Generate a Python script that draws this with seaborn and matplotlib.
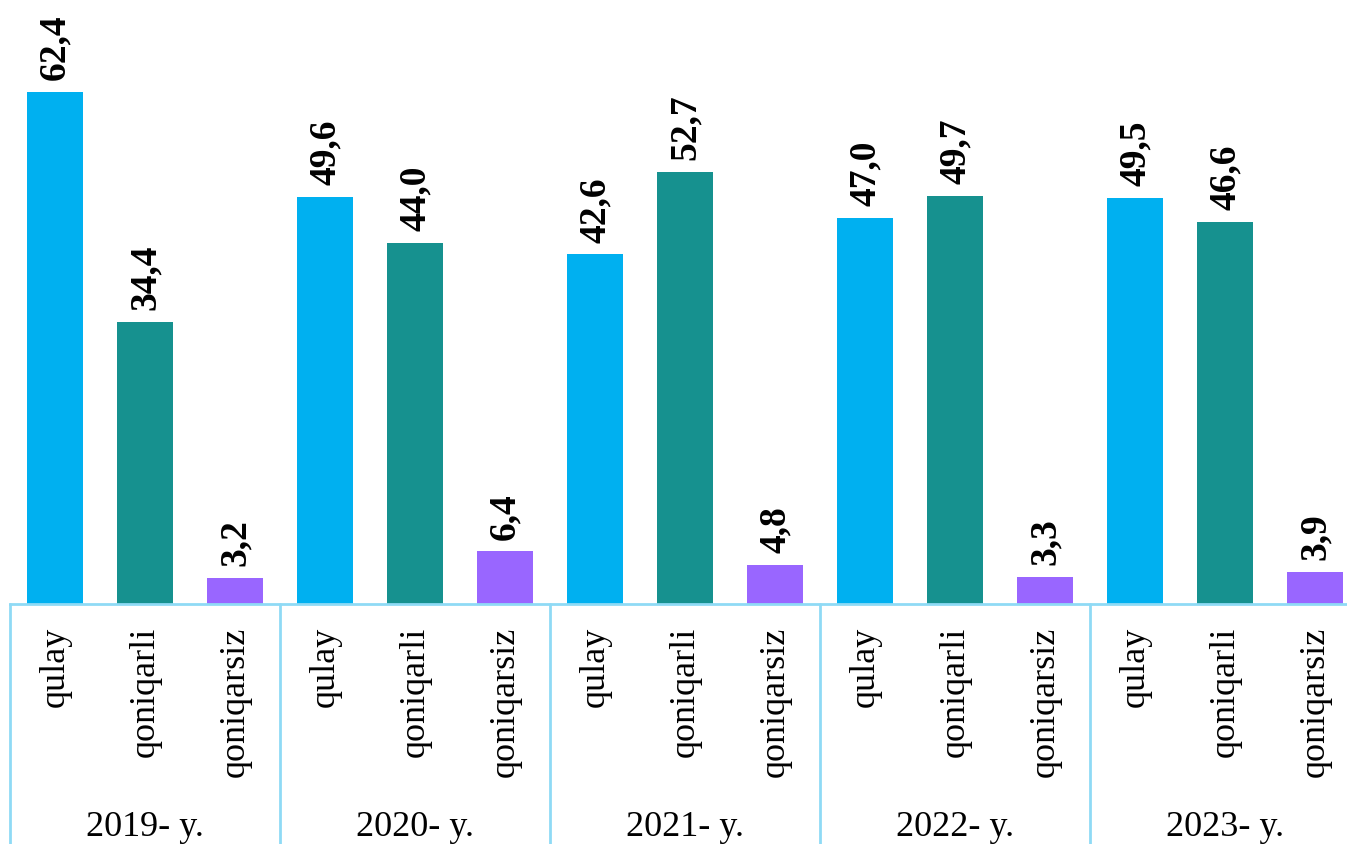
import matplotlib
matplotlib.use("Agg")
import matplotlib.pyplot as plt
import matplotlib.transforms as mtransforms
import seaborn as sns
import pandas as pd

years = ["2019- y.", "2020- y.", "2021- y.", "2022- y.", "2023- y."]
categories = ["qulay", "qoniqarli", "qoniqarsiz"]
qulay = [62.4, 49.6, 42.6, 47.0, 49.5]
qoniqarli = [34.4, 44.0, 52.7, 49.7, 46.6]
qoniqarsiz = [3.2, 6.4, 4.8, 3.3, 3.9]

colors = {"qulay": "#00B0F0", "qoniqarli": "#16918F", "qoniqarsiz": "#9966FF"}
line_color = "#8FDAF5"
serif = "Liberation Serif"

rows = []
for i, y in enumerate(years):
    for cat, vals in zip(categories, [qulay, qoniqarli, qoniqarsiz]):
        rows.append({"slot": f"{y} {cat}", "year": y, "cat": cat, "value": vals[i]})
df = pd.DataFrame(rows)
order = list(df["slot"])

sns.set_theme(style="white")
plt.rcParams["font.family"] = [serif, "DejaVu Serif"]

fig = plt.figure(figsize=(13.47, 8.44), dpi=100)
ax = fig.add_axes([10 / 1347, 240 / 844, 1350 / 1347, 604 / 844])

sns.barplot(data=df, x="slot", y="value", hue="cat", order=order,
            hue_order=categories, palette=colors, dodge=False, width=0.63,
            saturation=1, legend=False, linewidth=0, ax=ax)

ax.set_xlim(-0.5, len(order) - 0.5)
ax.set_ylim(0, 73.6)
ax.set_xticks([])
ax.set_yticks([])
ax.set_xlabel("")
ax.set_ylabel("")
for side in ["top", "left", "right"]:
    ax.spines[side].set_visible(False)
ax.spines["bottom"].set_color(line_color)
ax.spines["bottom"].set_linewidth(2)

# value labels
for i, v in enumerate(df["value"]):
    ax.annotate(f"{v:.1f}".replace(".", ","), xy=(i, v), xytext=(0, 8.5),
                textcoords="offset points", rotation=90, ha="center", va="bottom",
                fontsize=27, fontweight="bold", family=serif, color="black")

trans = mtransforms.blended_transform_factory(ax.transData, ax.transAxes)
px = 1 / 604  # one pixel in axes-height units

# category labels under each bar
for i, cat in enumerate(df["cat"]):
    ax.text(i, -23 * px, cat, rotation=90, ha="center", va="top",
            fontsize=26, family=serif, color="black", transform=trans, clip_on=False)

# year labels
for g, y in enumerate(years):
    ax.text(3 * g + 1, -224 * px, y, ha="center", va="center",
            fontsize=26, family=serif, color="black", transform=trans, clip_on=False)

# group separators
for g in range(len(years) + 1):
    x = 3 * g - 0.5
    ax.plot([x, x], [0, -250 * px], color=line_color, lw=2,
            transform=trans, clip_on=False)

fig.savefig("out.png", dpi=100)
